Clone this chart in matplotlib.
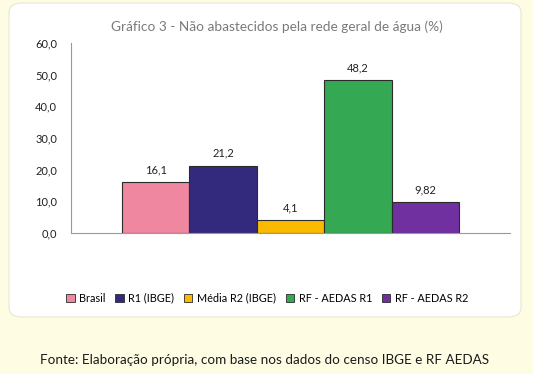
import matplotlib.pyplot as plt
from matplotlib.patches import FancyBboxPatch

# dados
categorias = ["Brasil", "R1 (IBGE)", "Média R2 (IBGE)", "RF - AEDAS R1", "RF - AEDAS R2"]
valores = [16.1, 21.2, 4.1, 48.2, 9.82]
rotulos = ["16,1", "21,2", "4,1", "48,2", "9,82"]
cores = ["#EF87A0", "#332A7E", "#FBBA00", "#34A853", "#7030A0"]
yticks = [0, 10, 20, 30, 40, 50, 60]

plt.rcParams["font.family"] = ["Lato", "DejaVu Sans"]

fig = plt.figure(figsize=(5.33, 3.74), dpi=100)
fig.patch.set_facecolor("#FEFDE4")

# painel branco arredondado
painel = FancyBboxPatch((9 / 533, 1 - 317 / 374), 512 / 533, 314 / 374,
                        boxstyle="round,pad=0,rounding_size=0.025",
                        transform=fig.transFigure, facecolor="white",
                        edgecolor="#E8E6D0", linewidth=0.8, zorder=-1)
fig.patches.append(painel)

ax = fig.add_axes([71 / 533, 1 - 233 / 374, 439 / 533, 190 / 374])
ax.set_facecolor("none")

x = range(len(valores))
ax.bar(x, valores, width=1.0, color=cores, edgecolor="#2b2b2b", linewidth=0.8)
for xi, v, r in zip(x, valores, rotulos):
    ax.text(xi, v + 2.2, r, ha="center", va="bottom", fontsize=8, color="#222222")

ax.set_xlim(-1.257, 5.257)
ax.set_ylim(0, 60)
ax.set_yticks(yticks)
ax.set_yticklabels([f"{t:.1f}".replace(".", ",") for t in yticks], fontsize=8, color="#222222")
ax.set_xticks([])
ax.tick_params(axis="y", length=0, pad=10)
for s in ["top", "right"]:
    ax.spines[s].set_visible(False)
ax.spines["left"].set_color("#999999")
ax.spines["bottom"].set_color("#999999")
ax.spines["left"].set_linewidth(0.8)
ax.spines["bottom"].set_linewidth(0.8)

fig.text(277 / 533, 1 - 27 / 374, "Gráfico 3 - Não abastecidos pela rede geral de água (%)",
         ha="center", va="center", fontsize=9.8, color="#7a7a7a")

handles = [plt.Rectangle((0, 0), 1, 1, facecolor=c, edgecolor="#2b2b2b", linewidth=0.6) for c in cores]
fig.legend(handles, categorias, loc="center", bbox_to_anchor=(267 / 533, 1 - 298 / 374),
           ncol=5, frameon=False, fontsize=7.8, handlelength=0.8, handleheight=0.8,
           handletextpad=0.4, columnspacing=0.9)

fig.text(265 / 533, 1 - 360 / 374, "Fonte: Elaboração própria, com base nos dados do censo IBGE e RF AEDAS",
         ha="center", va="center", fontsize=9.7, color="#1a1a1a")

fig.savefig("out.png", dpi=100, facecolor=fig.get_facecolor())
